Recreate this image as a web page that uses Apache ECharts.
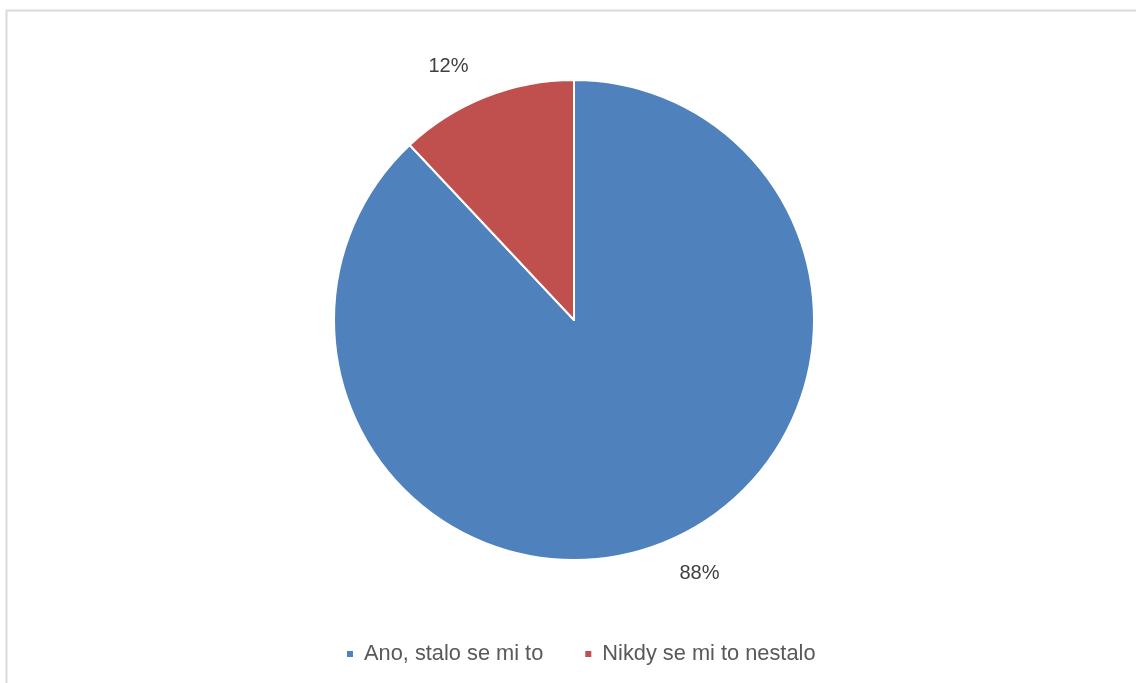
<!DOCTYPE html>
<html>
<head>
<meta charset="utf-8">
<style>
  html, body { margin: 0; padding: 0; background: #ffffff; }
  #chart { width: 1136px; height: 683px; }
</style>
<script src="https://cdn.jsdelivr.net/npm/echarts@6/dist/echarts.min.js"></script>
</head>
<body>
<div id="chart"></div>
<script>
// Survey answers and their shares (percent)
const categories = ['Ano, stalo se mi to', 'Nikdy se mi to nestalo'];
const shares = [88, 12];
const colors = ['#4f81bd', '#c0504d'];

const chart = echarts.init(document.getElementById('chart'), null, { renderer: 'canvas' });

chart.setOption({
  animation: false,
  backgroundColor: '#ffffff',
  graphic: [{
    type: 'rect',
    shape: { x: 6.5, y: 10.5, width: 1300, height: 900 },
    style: { fill: 'none', stroke: '#d9d9d9', lineWidth: 2 },
    silent: true
  }],
  legend: {
    top: 638,
    left: 340,
    icon: 'rect',
    itemWidth: 8,
    itemHeight: 8,
    itemGap: 40,
    textStyle: {
      fontFamily: 'Liberation Sans, Arial, sans-serif',
      fontSize: 21.8,
      color: '#595959',
      padding: [0, 0, 0, 5]
    },
    data: categories
  },
  series: [{
    type: 'pie',
    center: [574, 320],
    radius: 240,
    startAngle: 90,
    clockwise: true,
    itemStyle: { borderColor: '#ffffff', borderWidth: 2 },
    label: {
      show: true,
      position: 'outside',
      formatter: p => p.value + '%',
      fontFamily: 'Liberation Sans, Arial, sans-serif',
      fontSize: 20,
      color: '#404040',
      padding: [10, 0, 0, 0]
    },
    labelLine: { show: false, length: 33, length2: 0 },
    emphasis: { disabled: true },
    data: categories.map((name, i) => ({
      name: name,
      value: shares[i],
      itemStyle: { color: colors[i] }
    }))
  }]
});
</script>
</body>
</html>
